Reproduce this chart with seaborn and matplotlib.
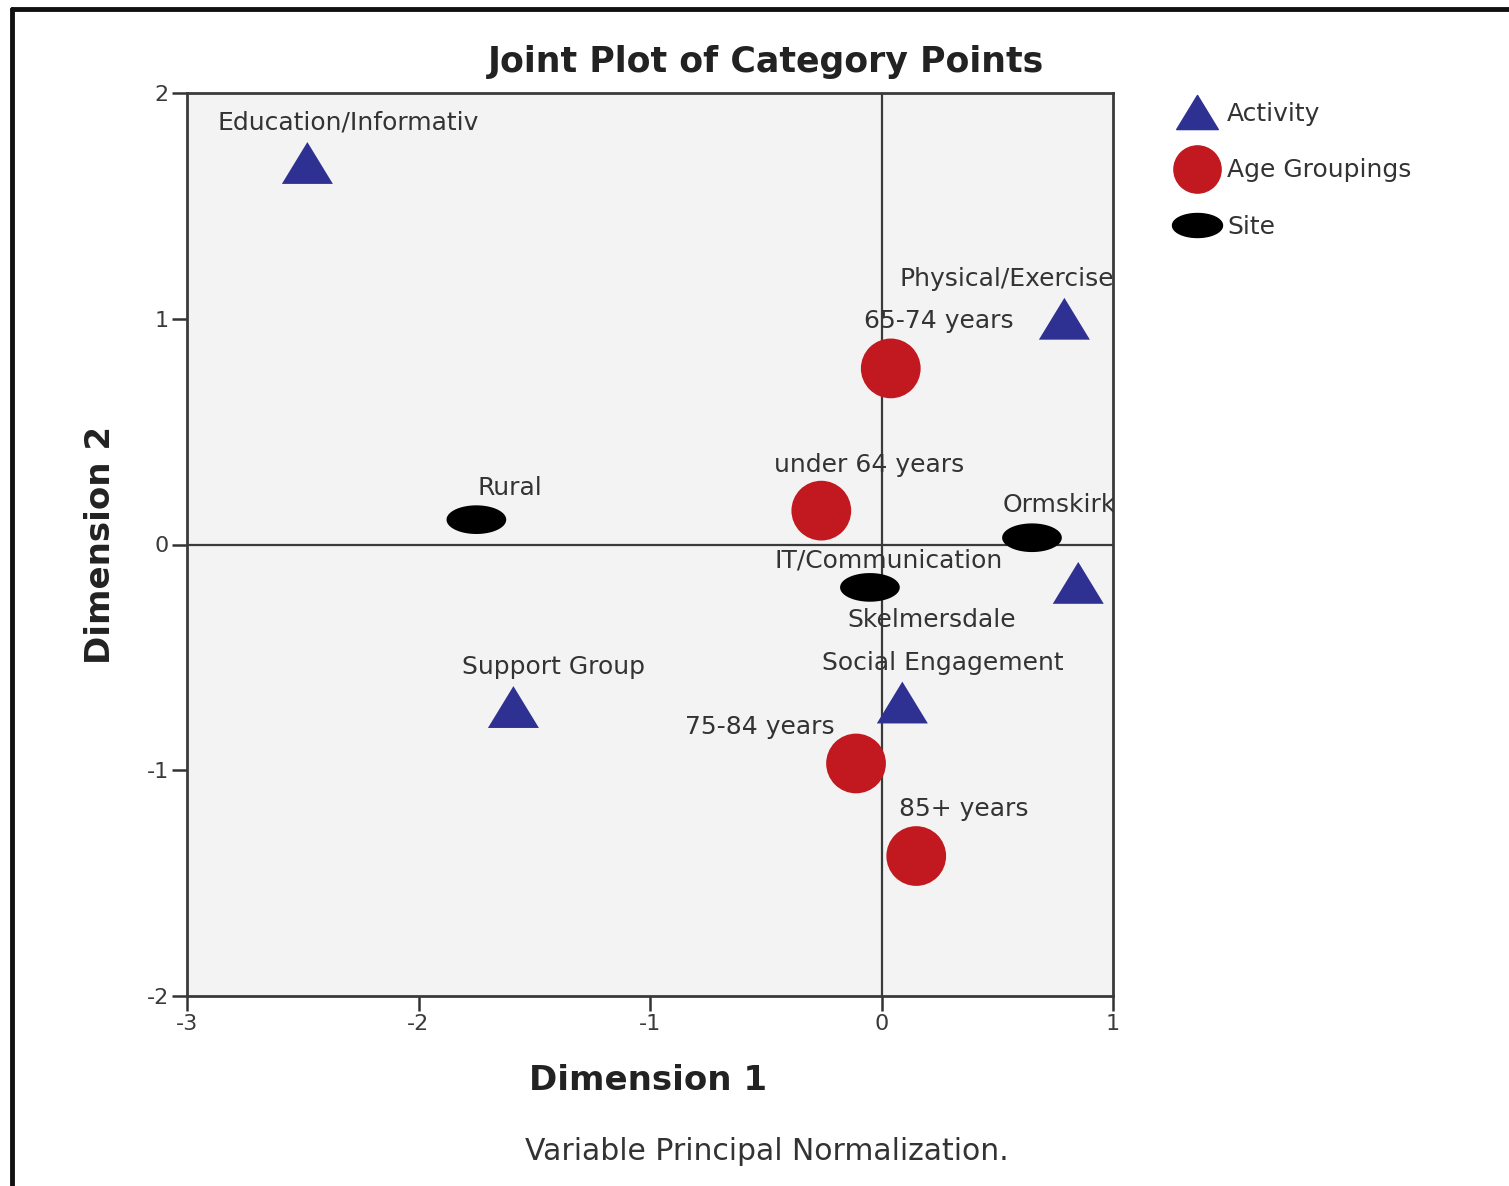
import numpy as np
import pandas as pd
import matplotlib
matplotlib.use("Agg")
import matplotlib.pyplot as plt
from matplotlib.lines import Line2D
from matplotlib.path import Path
import seaborn as sns

# Category point coordinates (Dimension 1, Dimension 2)
activity_labels = ["Education/Informativ", "Physical/Exercise", "IT/Communication",
                   "Support Group", "Social Engagement"]
activity_dim1 = [-2.48, 0.79, 0.85, -1.59, 0.09]
activity_dim2 = [1.69, 1.00, -0.17, -0.72, -0.70]

age_labels = ["65-74 years", "under 64 years", "75-84 years", "85+ years"]
age_dim1 = [0.04, -0.26, -0.11, 0.15]
age_dim2 = [0.78, 0.15, -0.97, -1.38]

site_labels = ["Rural", "Ormskirk", "Skelmersdale"]
site_dim1 = [-1.75, 0.65, -0.05]
site_dim2 = [0.11, 0.03, -0.19]

group_names = ["Activity", "Age Groupings", "Site"]

# label offsets in pixels (dx, dy) relative to each point
label_offsets = {
    "Education/Informativ": (41, 40),
    "Physical/Exercise": (-58, 40),
    "IT/Communication": (-190, 22),
    "Support Group": (40, 40),
    "Social Engagement": (40, 40),
    "65-74 years": (48, 47),
    "under 64 years": (48, 46),
    "75-84 years": (-96, 36),
    "85+ years": (48, 47),
    "Rural": (33, 32),
    "Ormskirk": (27, 33),
    "Skelmersdale": (62, -33),
}

df = pd.concat([
    pd.DataFrame({"label": activity_labels, "dim1": activity_dim1, "dim2": activity_dim2, "group": "Activity"}),
    pd.DataFrame({"label": age_labels, "dim1": age_dim1, "dim2": age_dim2, "group": "Age Groupings"}),
    pd.DataFrame({"label": site_labels, "dim1": site_dim1, "dim2": site_dim2, "group": "Site"}),
], ignore_index=True)

# marker shapes
tri = Path([(-1, -0.82), (1, -0.82), (0, 0.82), (-1, -0.82)],
           [Path.MOVETO, Path.LINETO, Path.LINETO, Path.CLOSEPOLY])
theta = np.linspace(0, 2 * np.pi, 60)
ell = Path(np.column_stack([np.cos(theta), 0.48 * np.sin(theta)]), closed=True)

markers = {"Activity": tri, "Age Groupings": "o", "Site": ell}
palette = {"Activity": "#2E3192", "Age Groupings": "#C1191F", "Site": "#000000"}
sizes = {"Activity": 1350, "Age Groupings": 1850, "Site": 1850}

sns.set_theme(style="white")
plt.rcParams["font.family"] = ["DejaVu Sans"]
plt.rcParams["axes.unicode_minus"] = False

fig = plt.figure(figsize=(15.09, 11.86), dpi=100)
ax = fig.add_axes([187 / 1509, 1 - 996 / 1186, (1113 - 187) / 1509, (996 - 93) / 1186])
ax.set_facecolor("#F3F3F3")

ax.axhline(0, color="#3a3a3a", lw=1.6, zorder=1)
ax.axvline(0, color="#3a3a3a", lw=1.6, zorder=1)

sns.scatterplot(data=df, x="dim1", y="dim2", hue="group", style="group", size="group",
                markers=markers, palette=palette, sizes=sizes, linewidth=0,
                legend=False, ax=ax, zorder=3)

for _, r in df.iterrows():
    dx, dy = label_offsets[r["label"]]
    t = ax.annotate(r["label"], (r["dim1"], r["dim2"]), xytext=(dx, dy),
                    textcoords="offset pixels", ha="center", va="center",
                    fontsize=18, color="#333333", zorder=4)
    t.set_clip_on(True)
    t.set_clip_path(ax.patch)

ax.set_xlim(-3, 1)
ax.set_ylim(-2, 2)
ax.set_xticks([-3, -2, -1, 0, 1])
ax.set_yticks([-2, -1, 0, 1, 2])
ax.tick_params(axis="both", direction="out", length=11, width=1.8, color="#333333",
               labelsize=16, labelcolor="#3a3a3a", pad=2,
               bottom=True, left=True)
for s in ax.spines.values():
    s.set_color("#3a3a3a")
    s.set_linewidth(2)

ax.set_xlabel("Dimension 1", fontsize=24.5, fontweight="bold", color="#222222")
ax.set_ylabel("Dimension 2", fontsize=24.5, fontweight="bold", color="#222222")
ax.xaxis.set_label_coords((648.5 - 187) / (1113 - 187), -(1064 - 996) / (996 - 93))
ax.yaxis.set_label_coords(-(187 - 117) / (1113 - 187), 0.5)

fig.text(766.5 / 1509, 1 - 62 / 1186, "Joint Plot of Category Points", ha="center", va="center",
         fontsize=25, fontweight="bold", color="#222222")
fig.text(766.5 / 1509, 1 - 1152 / 1186, "Variable Principal Normalization.", ha="center", va="center",
         fontsize=21.5, color="#333333")

handles = [
    Line2D([], [], linestyle="none", marker=tri, markersize=30, color=palette["Activity"]),
    Line2D([], [], linestyle="none", marker="o", markersize=34, color=palette["Age Groupings"]),
    Line2D([], [], linestyle="none", marker=ell, markersize=36, color=palette["Site"]),
]
fig.legend(handles, group_names, loc="upper left", bbox_to_anchor=(1167 / 1509, 1 - 92 / 1186),
           frameon=False, fontsize=18, handlelength=1.6, handletextpad=0.4, borderpad=0.4,
           labelspacing=1.3, borderaxespad=0, labelcolor="#333333")

# outer frame
fig.add_artist(Line2D([12 / 1509, 12 / 1509], [0, 1 - 9 / 1186], transform=fig.transFigure,
                      color="#111111", lw=3.5))
fig.add_artist(Line2D([12 / 1509, 1], [1 - 9 / 1186, 1 - 9 / 1186], transform=fig.transFigure,
                      color="#111111", lw=3.5))

fig.savefig("out.png", dpi=100)
